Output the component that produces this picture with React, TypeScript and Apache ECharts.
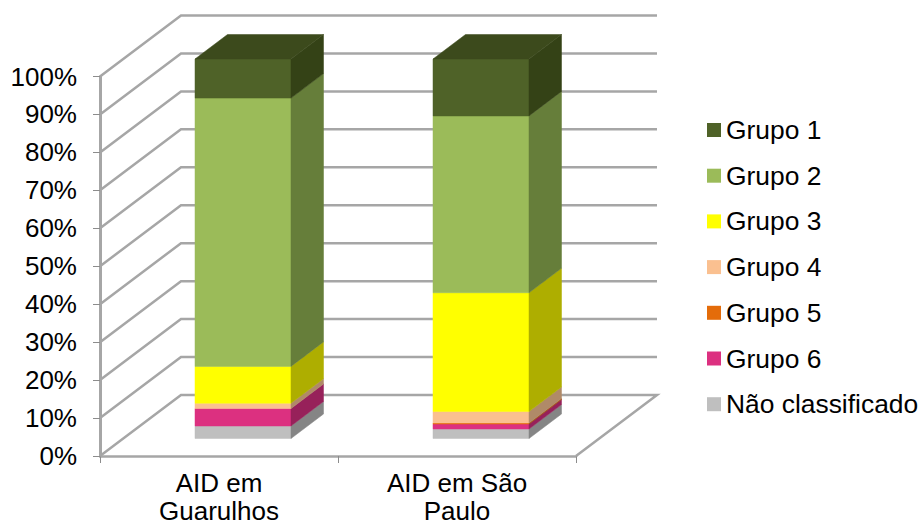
import React, { useEffect, useRef } from "react";
import * as echarts from "echarts";

const categories = ["AID em\nGuarulhos", "AID em São\nPaulo"];
const groupNames = ["Não classificado", "Grupo 6", "Grupo 5", "Grupo 4", "Grupo 3", "Grupo 2", "Grupo 1"];
const legendOrder = ["Grupo 1", "Grupo 2", "Grupo 3", "Grupo 4", "Grupo 5", "Grupo 6", "Não classificado"];
const guarulhos = [3.3, 4.6, 0, 1.4, 9.7, 70.7, 10.3];
const saoPaulo = [2.5, 1.3, 0.3, 3.0, 31.3, 46.6, 15.0];
const frontColors = ["#bfbfbf", "#dc3080", "#e46c0a", "#fac090", "#ffff00", "#9bbb59", "#4f6228"];
const sideColors = ["#858585", "#97215a", "#a04c08", "#b08a68", "#aeae00", "#667e3a", "#344216"];
const topColor = "#3c4a1c";
const ticks = [0, 10, 20, 30, 40, 50, 60, 70, 80, 90, 100];

const WALL_DX = 81;
const WALL_DY = -61;
const BAR_DX = 24;
const BAR_DY = -17.5;
const DEPTH_DX = 32.5;
const DEPTH_DY = -24.5;
const BAR_W = 96;
const LINE = { stroke: "#a6a6a6", lineWidth: 2.5, fill: "none" };

function poly(points: number[][], fill: string) {
  return { type: "polygon", shape: { points }, style: { fill, stroke: fill, lineWidth: 0.5 } };
}

function wallRender(params: any, api: any) {
  const v = api.value(0);
  const band = api.size([1, 0])[0];
  const mid = api.coord([0, v]);
  const left = mid[0] - band / 2;
  const y = mid[1];
  const right = left + band * categories.length;
  const points = [
    [left, y],
    [left + WALL_DX, y + WALL_DY],
    [right + WALL_DX, y + WALL_DY],
  ];
  if (v === 0) points.push([right, y]);
  return { type: "polyline", shape: { points }, style: LINE, silent: true };
}

function barRender(seriesIndex: number) {
  return (params: any, api: any) => {
    const cat = api.value(0);
    const start = api.coord([cat, api.value(1)]);
    const end = api.coord([cat, api.value(2)]);
    if (api.value(2) <= api.value(1)) return null;
    const x0 = start[0] + BAR_DX - BAR_W / 2;
    const x1 = x0 + BAR_W;
    const yb = start[1] + BAR_DY;
    const yt = end[1] + BAR_DY;
    const children: any[] = [
      poly([[x0, yb], [x1, yb], [x1, yt], [x0, yt]], frontColors[seriesIndex]),
      poly([[x1, yb], [x1 + DEPTH_DX, yb + DEPTH_DY], [x1 + DEPTH_DX, yt + DEPTH_DY], [x1, yt]], sideColors[seriesIndex]),
    ];
    if (seriesIndex === groupNames.length - 1) {
      children.push(poly([[x0, yt], [x1, yt], [x1 + DEPTH_DX, yt + DEPTH_DY], [x0 + DEPTH_DX, yt + DEPTH_DY]], topColor));
    }
    return { type: "group", children };
  };
}

function stacked(values: number[], index: number) {
  let base = 0;
  for (let i = 0; i < index; i++) base += values[i];
  return [base, base + values[index]];
}

export default function App() {
  const ref = useRef<HTMLDivElement>(null);
  useEffect(() => {
    document.body.style.margin = "0";
    const chart = echarts.init(ref.current!, undefined, { renderer: "svg" });
    const font = "Liberation Sans";
    const barSeries = groupNames.map((name, i) => ({
      type: "custom",
      name,
      z: 5,
      itemStyle: { color: frontColors[i] },
      renderItem: barRender(i),
      encode: { x: 0, y: [1, 2] },
      data: [
        [0, ...stacked(guarulhos, i)],
        [1, ...stacked(saoPaulo, i)],
      ],
    }));
    chart.setOption({
      animation: false,
      backgroundColor: "#ffffff",
      grid: { left: 100, right: 345, top: 76.5, bottom: 71, containLabel: false, outerBoundsMode: "none" },
      xAxis: {
        type: "category",
        data: categories,
        axisLine: { lineStyle: { color: "#a6a6a6", width: 2.5 } },
        axisTick: { show: true, length: 7, lineStyle: { color: "#8c8c8c", width: 1 } },
        axisLabel: { color: "#000", fontFamily: font, fontSize: 26, lineHeight: 28, margin: 13 },
      },
      yAxis: {
        type: "value",
        min: 0,
        max: 100,
        interval: 10,
        splitLine: { show: false },
        axisLine: { show: true, lineStyle: { color: "#a6a6a6", width: 3 } },
        axisTick: { show: true, length: 7, lineStyle: { color: "#8c8c8c", width: 1 } },
        axisLabel: { color: "#000", fontFamily: font, fontSize: 26, margin: 23, formatter: "{value}%" },
      },
      legend: {
        orient: "vertical",
        left: 702,
        top: 112,
        itemWidth: 14,
        itemHeight: 14,
        itemGap: 19.7,
        icon: "rect",
        selectedMode: false,
        data: legendOrder.map((name) => ({
          name,
          itemStyle: { color: frontColors[groupNames.indexOf(name)] },
        })),
        textStyle: { color: "#000", fontFamily: font, fontSize: 26.4, lineHeight: 26, padding: [0, 0, 0, 0] },
      },
      series: [
        {
          type: "custom",
          name: "walls",
          z: 1,
          silent: true,
          renderItem: wallRender,
          encode: { y: 0 },
          data: ticks.map((t) => [t]),
        },
        ...barSeries,
      ],
    });
    return () => chart.dispose();
  }, []);
  return <div ref={ref} style={{ width: 921, height: 527 }} />;
}
